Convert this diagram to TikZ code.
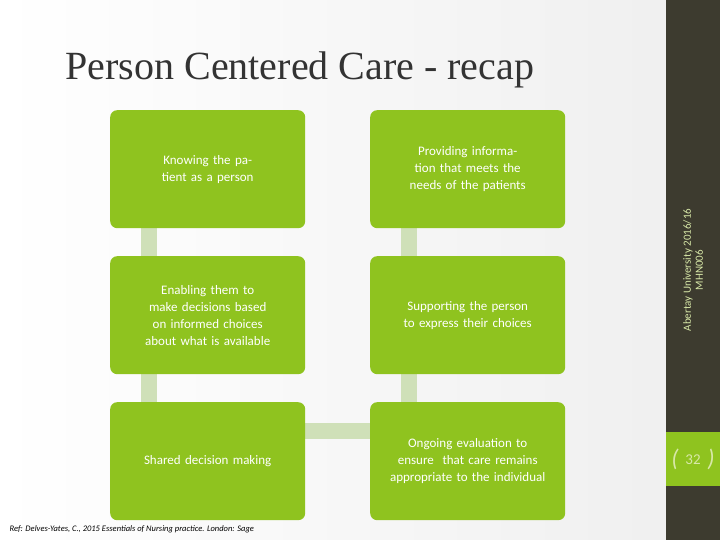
\documentclass[tikz,border=0pt]{standalone}
\usepackage{fontspec}
\setmainfont{Carlito}
\newfontfamily\titlefont{Liberation Serif}
\begin{document}
\begin{tikzpicture}[x=1pt,y=-1pt,
  box/.style={fill=boxgreen,rounded corners=7pt,text=white,align=center,font=\fontsize{13}{17}\selectfont,text width=165pt,anchor=north west,minimum width=195pt,minimum height=118pt,inner sep=0pt},
  conn/.style={draw=conngreen,line width=16pt}]
\definecolor{boxgreen}{HTML}{8FC31F}
\definecolor{conngreen}{HTML}{CFE0B8}
\definecolor{barcol}{HTML}{3D3B2F}
\definecolor{bartext}{HTML}{D8E8A8}
\useasboundingbox (0,0) rectangle (720,540);
\shade[left color=white,right color=black!6] (0,0) rectangle (666,540);
\fill[barcol] (666,0) rectangle (720,540);
\fill[boxgreen] (666,432) rectangle (720,486);
\node[text=bartext,font=\fontsize{24}{24}\selectfont\itshape] (lb) at (675,459) {(};
\node[text=bartext,font=\fontsize{24}{24}\selectfont\itshape] (rb) at (711,459) {)};
\node[text=bartext,font=\fontsize{15}{15}\selectfont] (pg) at (693,460) {32};
\node[text=bartext,rotate=90,align=center,font=\fontsize{11}{12}\selectfont] (au) at (693,270) {Abertay University 2016/16\\MHN006};
\node[anchor=west,font=\titlefont\fontsize{40}{40}\selectfont,text=black!80] (title) at (62,70) {Person Centered Care - recap};
\draw[conn] (149,220) -- (149,264);
\draw[conn] (149,365) -- (149,410);
\draw[conn] (409,220) -- (409,264);
\draw[conn] (409,365) -- (409,410);
\draw[conn] (300,430.5) -- (375,430.5);
\node[box] (a) at (110,110) {Knowing the patient as a person};
\node[box] (b) at (370,110) {Providing information that meets the needs of the patients};
\node[box] (c) at (110,256) {Enabling them to make decisions based on informed choices about what is available};
\node[box] (d) at (370,256) {Supporting the person to express their choices};
\node[box] (e) at (110,402) {Shared decision making};
\node[box] (f) at (370,402) {Ongoing evaluation to ensure\ \ that care remains appropriate to the individual};
\node[anchor=west,font=\fontsize{8.5}{9}\selectfont\itshape] (ref) at (6,529) {Ref: Delves-Yates, C., 2015 Essentials of Nursing practice. London: Sage};
\end{tikzpicture}
\end{document}
